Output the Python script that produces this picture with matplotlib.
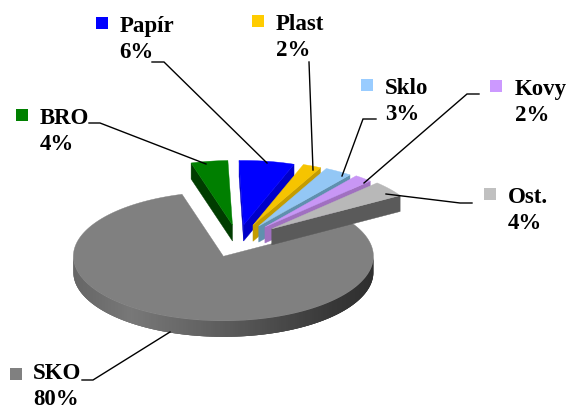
import numpy as np
import matplotlib
matplotlib.use("Agg")
from matplotlib import pyplot as plt
from matplotlib.patches import Polygon, Rectangle

plt.rcParams['font.family'] = ['Liberation Serif', 'DejaVu Serif']

# slices, clockwise from the upper left gap
names = ['BRO', 'Papír', 'Plast', 'Sklo', 'Kovy', 'Ost.', 'SKO']
shares = [4, 6, 2, 3, 2, 4, 80]

top_colors = ['#007f00', '#0000ff', '#f6c400', '#93c7f5', '#c896f5', '#b8b8b8', '#808080']
side_colors = ['#003c00', '#0000c8', '#c49c00', '#5f90ae', '#a070c0', '#5a5a5a', '#505050']
key_colors = ['#008000', '#0000ff', '#ffcc00', '#99ccff', '#cc99ff', '#c0c0c0', '#808080']

# pie geometry in pixels
center = (238, 240.3)
squash = 0.43
depth = 16
start_angle = -16
radius = [150, 150, 150, 150, 150, 150, 150]
explode = [36, 36, 38, 39, 41, 43, 40]

# label position, key square position, leader line
label_xy = [(40, 124), (119.5, 32), (276, 30), (385, 94), (515, 95), (508, 203), (33, 379)]
key_xy = [(16, 109), (96, 17), (252, 15), (361, 79), (490, 80), (484, 188), (10, 368)]
leaders = [
    [(89, 123), (100, 123), (206, 164)],
    [(152, 62), (164, 62), (267, 163)],
    [(309, 62), (313, 170)],
    [(376, 119), (363, 119), (342, 176)],
    [(479, 94), (467, 94), (364, 183)],
    [(472, 203), (460, 203), (386, 194)],
    [(82, 380), (93, 380), (170, 332)],
]

# shading of the big slice rim, left to right
rim_x = [75, 130, 225, 330, 375]
rim_gray = [0.40, 0.47, 0.36, 0.22, 0.18]


def project(apex, r, angle):
    a = np.radians(angle)
    return np.array([apex[0] + r * np.sin(a), apex[1] - squash * r * np.cos(a)])


def draw_slice(ax, i, t0, t1):
    mid = (t0 + t1) / 2
    apex = project(center, explode[i], mid)
    r = radius[i]
    ts = np.linspace(t0, t1, 300)
    arc = np.array([project(apex, r, t) for t in ts])
    drop = np.array([0, depth])

    # the two cut faces, only when they turn towards the viewer
    if np.cos(np.radians(t0 - 90)) < 0:
        p = project(apex, r, t0)
        ax.add_patch(Polygon([apex, p, p + drop, apex + drop], fc=side_colors[i], ec=side_colors[i], lw=0.3))
    if np.cos(np.radians(t1 + 90)) < 0:
        p = project(apex, r, t1)
        ax.add_patch(Polygon([apex, p, p + drop, apex + drop], fc=side_colors[i], ec=side_colors[i], lw=0.3))

    # outer rim on the front half, quads overlap so no seams show
    for k in range(len(ts) - 3):
        if np.cos(np.radians(ts[k])) < 0:
            a, b = arc[k], arc[k + 3]
            g = np.interp(arc[k + 1][0], rim_x, rim_gray)
            ax.add_patch(Polygon([a, b, b + drop, a + drop], fc=(g, g, g), ec='none'))

    ax.add_patch(Polygon(np.vstack([apex, arc]), fc=top_colors[i], ec=top_colors[i], lw=0.3))


fig = plt.figure(figsize=(5.68, 4.09), dpi=100)
ax = fig.add_axes([0, 0, 1, 1])
ax.set_xlim(0, 568)
ax.set_ylim(409, 0)
ax.axis('off')

# work out the angle range of each slice
step = 360 / sum(shares)
edges = start_angle + np.cumsum([0] + shares) * step

# big slice goes at the back, the small ones are stacked left to right over it
draw_slice(ax, 6, edges[6], edges[7])
for i in range(6):
    draw_slice(ax, i, edges[i], edges[i + 1])

for line in leaders:
    xs, ys = zip(*line)
    ax.plot(xs, ys, color='black', lw=1.0, solid_joinstyle='miter')

for i, name in enumerate(names):
    x, y = label_xy[i]
    ax.text(x, y, name, fontsize=16.5, fontweight='bold', va='baseline', ha='left', color='black')
    ax.text(x, y + 26, '%d%%' % shares[i], fontsize=16.5, fontweight='bold', va='baseline', ha='left', color='black')
    kx, ky = key_xy[i]
    ax.add_patch(Rectangle((kx, ky), 12, 12, fc=key_colors[i], ec='none'))

fig.savefig('out.png', dpi=100)
